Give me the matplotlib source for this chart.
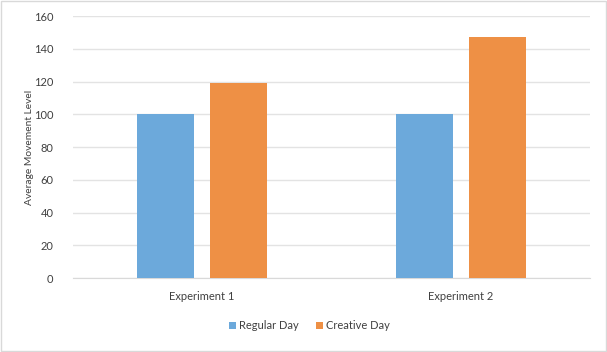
import matplotlib
matplotlib.use("Agg")
import matplotlib.pyplot as plt
import numpy as np

categories = ["Experiment 1", "Experiment 2"]
series_names = ["Regular Day", "Creative Day"]
regular = [100, 100]
creative = [119, 147]
yticks = [0, 20, 40, 60, 80, 100, 120, 140, 160]

plt.rcParams['font.family'] = ['Lato', 'DejaVu Sans']

fig = plt.figure(figsize=(6.07, 3.52), dpi=100)
ax = fig.add_axes([0.120, 0.210, 0.852, 0.7445])

x = np.arange(len(categories))
w = 0.22
off = 0.141
ax.bar(x - off, regular, w, color="#6CA9DB", label=series_names[0], zorder=3)
ax.bar(x + off, creative, w, color="#EE9045", label=series_names[1], zorder=3)

ax.set_xlim(-0.5, 1.5)
ax.set_ylim(0, 160)
ax.set_yticks(yticks)
ax.set_xticks(x)
ax.set_xticklabels(categories)
ax.grid(axis='y', color="#E3E3E3", linewidth=1, zorder=0)
for s in ["top", "right", "left"]:
    ax.spines[s].set_visible(False)
ax.spines["bottom"].set_color("#D9D9D9")
ax.tick_params(axis='both', length=0, labelsize=8, colors="#404040")
ax.tick_params(axis='x', pad=9)
ax.tick_params(axis='y', pad=14)
ax.set_ylabel("Average Movement Level", fontsize=7.4, color="#404040", labelpad=0)

leg = fig.legend(loc="center", bbox_to_anchor=(0.51, 0.075), ncol=2, frameon=False,
                 fontsize=8, handlelength=0.6, handleheight=0.6, columnspacing=1.5,
                 handletextpad=0.3)
for t in leg.get_texts():
    t.set_color("#404040")

border = plt.Rectangle((0.002, 0.003), 0.996, 0.994, transform=fig.transFigure,
                       fill=False, edgecolor="#D9D9D9", linewidth=1)
fig.patches.append(border)

fig.savefig("out.png", dpi=100)
